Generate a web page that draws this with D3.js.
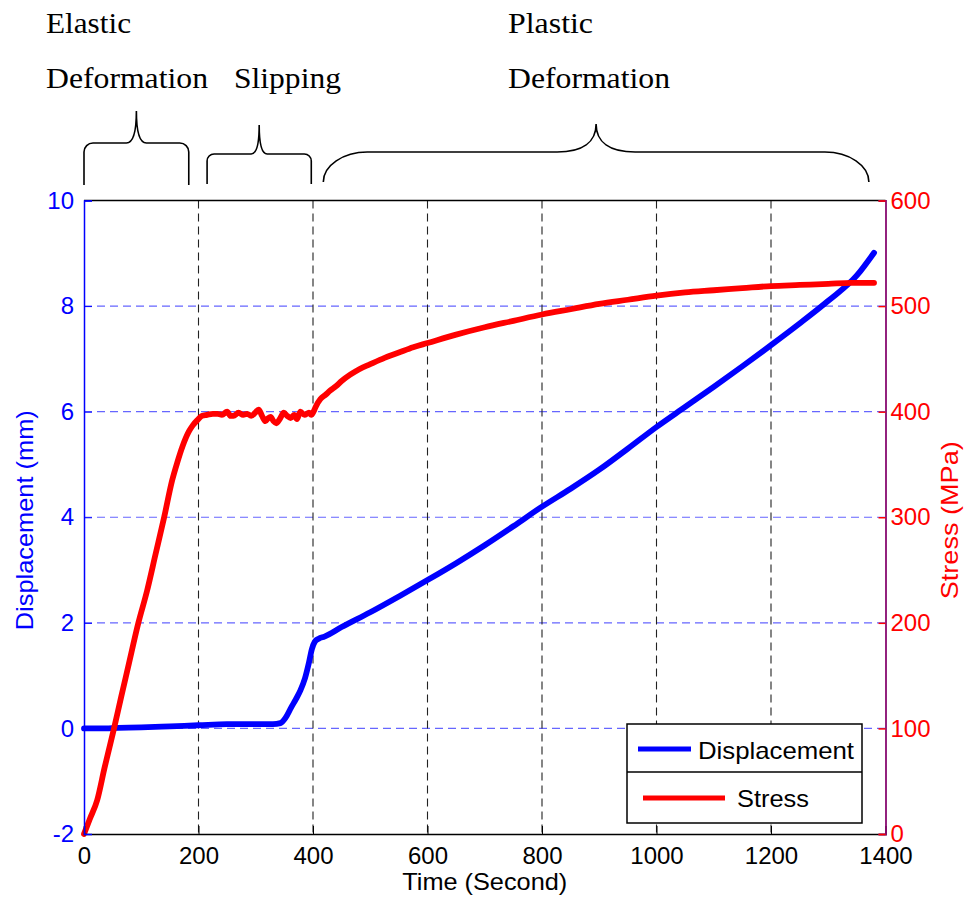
<!DOCTYPE html>
<html>
<head>
<meta charset="utf-8">
<script src="https://cdn.jsdelivr.net/npm/d3@7"></script>
<style>
  html, body { margin: 0; padding: 0; background: #fff; }
  svg { display: block; }
</style>
</head>
<body>
<div id="chart"></div>
<script>
// ---------------- data ----------------
const timeTicks = [0, 200, 400, 600, 800, 1000, 1200, 1400];
const dispTicks = [-2, 0, 2, 4, 6, 8, 10];
const stressTicks = [0, 100, 200, 300, 400, 500, 600];

const dispT = [0,30,60,100,150,200,250,300,330,343,352,362,370,378,386,393,398,403,410,420,450,500,550,600,650,700,750,800,850,900,950,1000,1050,1100,1150,1200,1250,1300,1350,1380];
const dispV = [0,0,0.01,0.02,0.04,0.06,0.08,0.08,0.08,0.1,0.2,0.4,0.55,0.72,0.95,1.25,1.5,1.64,1.7,1.74,1.92,2.2,2.5,2.81,3.13,3.47,3.83,4.2,4.54,4.9,5.3,5.71,6.09,6.47,6.86,7.26,7.67,8.1,8.58,9.01];

const stressT = [0,10,23,36,52,65,77,95,110,125,140,154,163,172,183,190,198,206,215,225,233,241,250,256,261,270,278,285,292,299,305,311,317,322,326,331,336,342,349,355,361,367,372,378,385,393,397,401,405,413,422,430,440,450,465,480,500,525,550,575,600,650,700,750,800,850,900,950,1000,1050,1100,1150,1200,1250,1300,1340,1380];
const stressV = [0,14,32,63,99,130,158,200,230,265,300,335,352,367,381,387,392,396,397,398,398,397,400,396,396,399,397,398,396,399,402,396,391,394,395,391,389,393,399,396,394,397,393,400,397,399,397,400,405,412,416,420,424,429,435,440,445,451,456,461,465,473,480,486,492,497,502,506,510,513,515,517,519,520,521,522,522];

const seriesNames = ["Displacement", "Stress"];
const seriesColors = ["#0000ff", "#ff0000"];

// Stage annotations (time spans of the braces)
const stageLabels = [["Elastic", "Deformation"], ["Slipping"], ["Plastic", "Deformation"]];
const stageStart = [0, 215, 418];
const stageEnd = [183, 397, 1371];

// ---------------- layout ----------------
const W = 971, H = 901;
const L = 84, R = 885.5, T = 200.5, B = 834;

const svg = d3.select("#chart").append("svg").attr("width", W).attr("height", H);

const x = d3.scaleLinear().domain([0, 1400]).range([L, R]);
const yL = d3.scaleLinear().domain([-2, 10]).range([B, T]);
const yR = d3.scaleLinear().domain([0, 600]).range([B, T]);

const sans = "'Liberation Sans', Arial, Helvetica, sans-serif";
const serif = "'Liberation Serif', 'Times New Roman', serif";
const fmt = d => String(d);

// grid
const g = svg.append("g");
g.selectAll("line.hg").data(dispTicks.slice(1, -1)).enter().append("line")
  .attr("x1", L).attr("x2", R).attr("y1", d => yL(d)).attr("y2", d => yL(d))
  .attr("stroke", "#6666ff").attr("stroke-width", 1.2).attr("stroke-dasharray", "8,5");
g.selectAll("line.vg").data(timeTicks.slice(1, -1)).enter().append("line")
  .attr("x1", d => x(d)).attr("x2", d => x(d)).attr("y1", T).attr("y2", B)
  .attr("stroke", "#222").attr("stroke-width", 1.1).attr("stroke-dasharray", "8,5");

// lines
const lineD = d3.line().x(d => x(d[0])).y(d => yL(d[1])).curve(d3.curveMonotoneX);
const lineS = d3.line().x(d => x(d[0])).y(d => yR(d[1])).curve(d3.curveMonotoneX);
svg.append("path").datum(dispT.map((t, i) => [t, dispV[i]]))
  .attr("d", lineD).attr("fill", "none").attr("stroke", seriesColors[0])
  .attr("stroke-width", 5.8).attr("stroke-linejoin", "round").attr("stroke-linecap", "round");
svg.append("path").datum(stressT.map((t, i) => [t, stressV[i]]))
  .attr("d", lineS).attr("fill", "none").attr("stroke", seriesColors[1])
  .attr("stroke-width", 5.8).attr("stroke-linejoin", "round").attr("stroke-linecap", "round");

// axes
svg.append("line").attr("x1", L).attr("x2", R).attr("y1", T).attr("y2", T).attr("stroke", "#000").attr("stroke-width", 1.5);
const xAxis = d3.axisBottom(x).tickValues(timeTicks).tickFormat(fmt).tickSize(-8).tickPadding(13);
const gx = svg.append("g").attr("transform", `translate(0,${B})`).call(xAxis);
gx.select(".domain").attr("stroke", "#000").attr("stroke-width", 1.5);
gx.selectAll(".tick line").attr("stroke", "#000");
gx.selectAll(".tick text").attr("font-family", sans).attr("font-size", 24).attr("fill", "#000").attr("dy", "0.72em");

const yAxisL = d3.axisLeft(yL).tickValues(dispTicks).tickFormat(fmt).tickSize(-8).tickPadding(10);
const gl = svg.append("g").attr("transform", `translate(${L},0)`).call(yAxisL);
gl.select(".domain").attr("stroke", "#0000ff").attr("stroke-width", 1.5);
gl.selectAll(".tick line").attr("stroke", "#0000ff");
gl.selectAll(".tick text").attr("font-family", sans).attr("font-size", 24).attr("fill", "#0000ff");

const yAxisR = d3.axisRight(yR).tickValues(stressTicks).tickFormat(fmt).tickSize(-7).tickPadding(5);
const gr = svg.append("g").attr("transform", `translate(${R},0)`).call(yAxisR);
gr.select(".domain").attr("stroke", "#880a70").attr("stroke-width", 1.8);
gr.selectAll(".tick line").attr("stroke", "#ff0000").attr("stroke-width", 1.5);
gr.selectAll(".tick text").attr("font-family", sans).attr("font-size", 24).attr("fill", "#ff0000");

// axis titles
svg.append("text").attr("x", (L + R) / 2).attr("y", 890).attr("text-anchor", "middle")
  .attr("font-family", sans).attr("font-size", 24).attr("fill", "#000")
  .attr("textLength", 165).attr("lengthAdjust", "spacingAndGlyphs")
  .text("Time (Second)");
svg.append("text").attr("transform", `translate(33,${(T + B) / 2 + 3}) rotate(-90)`).attr("text-anchor", "middle")
  .attr("font-family", sans).attr("font-size", 24).attr("fill", "#0000ff")
  .attr("textLength", 220).attr("lengthAdjust", "spacingAndGlyphs")
  .text("Displacement (mm)");
svg.append("text").attr("transform", `translate(958,${(T + B) / 2 + 3}) rotate(-90)`).attr("text-anchor", "middle")
  .attr("font-family", sans).attr("font-size", 24).attr("fill", "#ff0000")
  .attr("textLength", 158).attr("lengthAdjust", "spacingAndGlyphs")
  .text("Stress (MPa)");

// legend
const lg = svg.append("g");
const lx0 = 627, lx1 = 862, ly0 = 724, ly1 = 823, lmid = 772;
lg.append("rect").attr("x", lx0).attr("y", ly0).attr("width", lx1 - lx0).attr("height", ly1 - ly0)
  .attr("fill", "#fff").attr("stroke", "#000").attr("stroke-width", 1.5);
lg.append("line").attr("x1", lx0).attr("x2", lx1).attr("y1", lmid).attr("y2", lmid).attr("stroke", "#000").attr("stroke-width", 1.5);
const legLine = [[638, 691, 749], [643, 725, 798]];
const legText = [[698, 759, 156], [737, 807, 72]];
seriesNames.forEach((n, i) => {
  lg.append("line").attr("x1", legLine[i][0]).attr("x2", legLine[i][1]).attr("y1", legLine[i][2]).attr("y2", legLine[i][2])
    .attr("stroke", seriesColors[i]).attr("stroke-width", 5);
  lg.append("text").attr("x", legText[i][0]).attr("y", legText[i][1])
    .attr("font-family", sans).attr("font-size", 24).attr("fill", "#000")
    .attr("textLength", legText[i][2]).attr("lengthAdjust", "spacingAndGlyphs").text(n);
});

// stage braces
const braceStyle = [
  {yb: 185, yl: 143, yp: 111, rh: 9, rv: 9, hw: 10},
  {yb: 184, yl: 154, yp: 125, rh: 7, rv: 7, hw: 8},
  {yb: 182, yl: 152, yp: 124, rh: 44, rv: 30, hw: 39}
];
stageStart.forEach((s, i) => {
  const x0 = x(s), x1 = x(stageEnd[i]), xc = (x0 + x1) / 2;
  const st = braceStyle[i];
  const p = d3.path();
  p.moveTo(x0, st.yb);
  p.lineTo(x0, st.yl + st.rv);
  p.bezierCurveTo(x0, st.yl + st.rv * 0.45, x0 + st.rh * 0.45, st.yl, x0 + st.rh, st.yl);
  p.lineTo(xc - st.hw, st.yl);
  p.bezierCurveTo(xc - st.hw * 0.35, st.yl, xc, st.yl - (st.yl - st.yp) * 0.35, xc, st.yp);
  p.bezierCurveTo(xc, st.yl - (st.yl - st.yp) * 0.35, xc + st.hw * 0.35, st.yl, xc + st.hw, st.yl);
  p.lineTo(x1 - st.rh, st.yl);
  p.bezierCurveTo(x1 - st.rh * 0.45, st.yl, x1, st.yl + st.rv * 0.45, x1, st.yl + st.rv);
  p.lineTo(x1, st.yb);
  svg.append("path").attr("d", p.toString()).attr("fill", "none").attr("stroke", "#000").attr("stroke-width", 1.6);
});

// stage labels
const labelX = [46, 234, 508];
const labelW = {"Elastic": 85, "Deformation": 162, "Slipping": 107, "Plastic": 85};
stageLabels.forEach((lines, i) => {
  const baseY = lines.length === 2 ? [33, 88] : [88];
  lines.forEach((t, j) => {
    svg.append("text").attr("x", labelX[i]).attr("y", baseY[j])
      .attr("font-family", serif).attr("font-size", 30).attr("fill", "#000")
      .attr("textLength", labelW[t]).attr("lengthAdjust", "spacingAndGlyphs")
      .text(t);
  });
});
</script>
</body>
</html>
